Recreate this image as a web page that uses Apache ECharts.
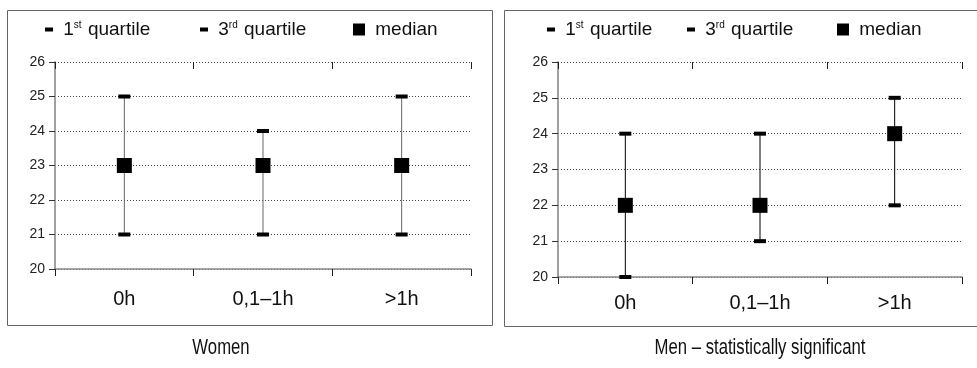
<!DOCTYPE html>
<html lang="en">
<head>
<meta charset="UTF-8" />
<title>Quartiles and median</title>
<style>
  html, body { margin: 0; padding: 0; background: #fff; }
  #chart { width: 977px; height: 368px; }
</style>
</head>
<body>
<div id="chart"></div>
<script src="https://cdn.jsdelivr.net/npm/echarts@6/dist/echarts.min.js"></script>
<script>
// data
const groups = ['0h', '0,1–1h', '>1h'];
const yTicks = [20, 21, 22, 23, 24, 25, 26];

const womenQ1 = [21, 21, 21];
const womenQ3 = [25, 24, 25];
const womenMedian = [23, 23, 23];

const menQ1 = [20, 21, 22];
const menQ3 = [24, 24, 25];
const menMedian = [22, 22, 24];

const panelTitles = ['Women', 'Men – statistically significant'];
const seriesNames = ['1st quartile', '3rd quartile', 'median'];

const FONT = '"Liberation Sans", Arial, sans-serif';

const legendLabel = {
  '1st quartile': ' 1{s|st} quartile',
  '3rd quartile': ' 3{s|rd} quartile',
  'median': ' median'
};

function yAxis(gridIndex) {
  return {
    type: 'value', gridIndex,
    min: yTicks[0], max: yTicks[yTicks.length - 1], interval: 1,
    axisLine: { show: true, lineStyle: { color: '#a0a0a0', width: 2 } },
    axisTick: { show: true, length: 6, lineStyle: { color: '#333' } },
    axisLabel: { fontSize: 14, color: '#222', margin: 10, fontFamily: FONT },
    splitLine: { show: true, lineStyle: { color: '#444', type: [1, 2], width: 1 } }
  };
}

function xAxis(gridIndex, margin) {
  return {
    type: 'category', gridIndex, data: groups, boundaryGap: true,
    axisLine: { show: true, lineStyle: { color: '#888', width: 1.5 } },
    axisTick: { show: true, length: 7, lineStyle: { color: '#222' } },
    axisLabel: { fontSize: 20, color: '#111', margin, fontFamily: FONT },
    splitLine: { show: false }
  };
}

// second axis only for the tick half above the axis line
function xAxisInner(gridIndex) {
  return {
    type: 'category', gridIndex, data: groups, boundaryGap: true,
    axisLine: { show: false },
    axisTick: { show: true, inside: true, length: 7, lineStyle: { color: '#222' } },
    axisLabel: { show: false },
    splitLine: { show: false }
  };
}

const solid = { color: '#000', opacity: 1 };

function panelSeries(xIdx, yIdx, q1, q3, med, whiskerColor) {
  return [
    {
      type: 'custom', xAxisIndex: xIdx, yAxisIndex: yIdx, silent: true, z: 2,
      data: groups.map((g, i) => [i, q1[i], q3[i]]),
      encode: { x: 0, y: [1, 2] },
      renderItem: (params, api) => {
        const a = api.coord([api.value(0), api.value(1)]);
        const b = api.coord([api.value(0), api.value(2)]);
        return {
          type: 'line',
          shape: { x1: a[0], y1: a[1], x2: b[0], y2: b[1] },
          style: { stroke: whiskerColor, lineWidth: 1 }
        };
      }
    },
    {
      name: seriesNames[0], type: 'scatter', xAxisIndex: xIdx, yAxisIndex: yIdx, z: 3,
      symbol: 'rect', symbolSize: [12, 4], itemStyle: solid,
      data: q1
    },
    {
      name: seriesNames[1], type: 'scatter', xAxisIndex: xIdx, yAxisIndex: yIdx, z: 3,
      symbol: 'rect', symbolSize: [12, 4], itemStyle: solid,
      data: q3
    },
    {
      name: seriesNames[2], type: 'scatter', xAxisIndex: xIdx, yAxisIndex: yIdx, z: 4,
      symbol: 'rect', symbolSize: 15, itemStyle: solid,
      data: med
    }
  ];
}

function legendItem(name, left, w, h) {
  return {
    data: [{ name, icon: 'rect', itemStyle: solid }], left, top: 15,
    itemWidth: w, itemHeight: h, selectedMode: false,
    formatter: n => legendLabel[n],
    textStyle: {
      fontSize: 19, color: '#111', fontFamily: FONT,
      rich: { s: { fontSize: 10, verticalAlign: 'top', fontFamily: FONT, color: '#111', padding: [0, 1, 0, 0] } }
    }
  };
}

const frame = (x, y, w, h) => ({
  type: 'rect', z: -1, silent: true,
  shape: { x, y, width: w, height: h },
  style: { fill: 'none', stroke: '#666', lineWidth: 1 }
});

// captions are narrow in the original, so squeeze them horizontally
const caption = (text, x) => ({
  type: 'text', x, y: 348, scaleX: 0.76, silent: true,
  style: { text, font: '22px ' + FONT, fill: '#111', textAlign: 'center', textVerticalAlign: 'middle' }
});

const chart = echarts.init(document.getElementById('chart'));
chart.setOption({
  animation: false,
  grid: [
    { left: 55, top: 62, width: 416, height: 207 },
    { left: 558, top: 62, width: 404, height: 215 }
  ],
  xAxis: [xAxis(0, 20), xAxis(1, 16), xAxisInner(0), xAxisInner(1)],
  yAxis: [yAxis(0), yAxis(1)],
  legend: [
    legendItem(seriesNames[0], 40, 8, 4),
    legendItem(seriesNames[1], 195, 8, 4),
    legendItem(seriesNames[2], 348, 12, 12),
    legendItem(seriesNames[0], 542, 8, 4),
    legendItem(seriesNames[1], 682, 8, 4),
    legendItem(seriesNames[2], 832, 12, 12)
  ],
  graphic: [
    frame(7.5, 10.5, 485, 315),
    frame(504.5, 10.5, 480, 316),
    caption(panelTitles[0], 221),
    caption(panelTitles[1], 760)
  ],
  series: [
    ...panelSeries(0, 0, womenQ1, womenQ3, womenMedian, '#666'),
    ...panelSeries(1, 1, menQ1, menQ3, menMedian, '#000')
  ]
});
</script>
</body>
</html>
